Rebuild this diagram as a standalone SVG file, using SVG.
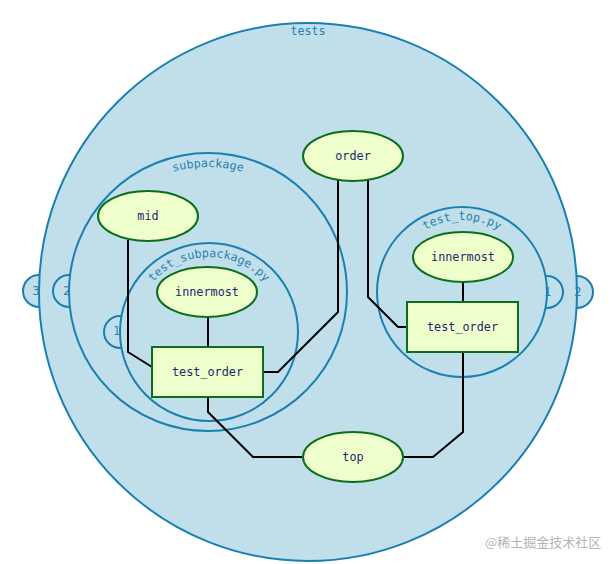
<svg xmlns="http://www.w3.org/2000/svg" width="616" height="564" viewBox="0 0 616 564">
  <defs>
    <style>
      .scope { fill: #c0dfea; stroke: #1a80b0; stroke-width: 2; }
      .badge { fill: #c0dfea; stroke: #1a80b0; stroke-width: 2; }
      .slabel { font-family: "DejaVu Sans Mono", "Liberation Mono", monospace; font-size: 11.7px; fill: #2a7fb0; }
      .blabel { font-family: "DejaVu Sans", "Liberation Sans", sans-serif; font-size: 11.5px; fill: #2a7fb0; text-anchor: middle; dominant-baseline: central; }
      .node { fill: #eeffcc; stroke: #0b6e1f; stroke-width: 2; }
      .ntext { font-family: "DejaVu Sans Mono", "Liberation Mono", monospace; font-size: 11.8px; fill: #1c2a6e; text-anchor: middle; dominant-baseline: central; }
      .edge { fill: none; stroke: #000; stroke-width: 2; }
      .wm { font-family: "Noto Sans CJK SC", "Noto Sans", sans-serif; font-size: 13px; fill: #b4b4b4; }
    </style>
    <path id="arc-sub" d="M 83 292 A 125 125 0 0 1 333 292"/>
    <path id="arc-tsp" d="M 134 332 A 75 75 0 0 1 284 332"/>
    <path id="arc-ttp" d="M 390 292 A 72 72 0 0 1 534 292"/>
  </defs>

  <g id="scope-tests">
    <circle class="badge" cx="39" cy="291" r="16"/>
    <circle class="badge" cx="577" cy="292" r="16"/>
    <circle class="scope" cx="308" cy="292" r="269"/>
    <text class="slabel" x="308" y="35" text-anchor="middle">tests</text>
    <text class="blabel" x="36" y="291">3</text>
    <text class="blabel" x="578" y="292">2</text>
  </g>

  <g id="scope-subpackage">
    <circle class="badge" cx="69" cy="291" r="16"/>
    <circle class="scope" cx="208" cy="292" r="139"/>
    <text class="slabel" text-anchor="middle"><textPath href="#arc-sub" startOffset="50%">subpackage</textPath></text>
    <text class="blabel" x="67" y="291">2</text>
  </g>

  <g id="scope-test_subpackage">
    <circle class="badge" cx="120" cy="332" r="16"/>
    <circle class="scope" cx="209" cy="332" r="89"/>
    <text class="slabel" text-anchor="middle"><textPath href="#arc-tsp" startOffset="50%">test_subpackage.py</textPath></text>
    <text class="blabel" x="117" y="331">1</text>
  </g>

  <g id="scope-test_top">
    <circle class="badge" cx="547" cy="292" r="16"/>
    <circle class="scope" cx="462" cy="292" r="85"/>
    <text class="slabel" text-anchor="middle"><textPath href="#arc-ttp" startOffset="50%">test_top.py</textPath></text>
    <text class="blabel" x="548" y="292">1</text>
  </g>

  <g id="connectors">
    <polyline class="edge" points="128,240 128,352 152,367"/>
    <polyline class="edge" points="208,317 208,347"/>
    <polyline class="edge" points="263,372 278,372 338,312 338,180"/>
    <polyline class="edge" points="368,180 368,297 398,327 407,327"/>
    <polyline class="edge" points="463,282 463,302"/>
    <polyline class="edge" points="208,397 208,412 253,457 303,457"/>
    <polyline class="edge" points="403,457 433,457 463,432 463,352"/>
  </g>

  <g id="node-order">
    <ellipse class="node" cx="353" cy="156" rx="50" ry="25"/>
    <text class="ntext" x="353" y="156">order</text>
  </g>
  <g id="node-mid">
    <ellipse class="node" cx="148" cy="216" rx="50" ry="25"/>
    <text class="ntext" x="148" y="216">mid</text>
  </g>
  <g id="node-innermost-sub">
    <ellipse class="node" cx="207" cy="292" rx="50" ry="25"/>
    <text class="ntext" x="207" y="292">innermost</text>
  </g>
  <g id="node-test_order-sub">
    <rect class="node" x="152" y="347" width="111" height="50"/>
    <text class="ntext" x="207.5" y="372">test_order</text>
  </g>
  <g id="node-innermost-top">
    <ellipse class="node" cx="463" cy="257" rx="50" ry="25"/>
    <text class="ntext" x="463" y="257">innermost</text>
  </g>
  <g id="node-test_order-top">
    <rect class="node" x="407" y="302" width="111" height="50"/>
    <text class="ntext" x="462.5" y="327">test_order</text>
  </g>
  <g id="node-top">
    <ellipse class="node" cx="353" cy="457" rx="50" ry="25"/>
    <text class="ntext" x="353" y="457">top</text>
  </g>

  <text class="wm" x="485" y="547">@稀土掘金技术社区</text>
</svg>
